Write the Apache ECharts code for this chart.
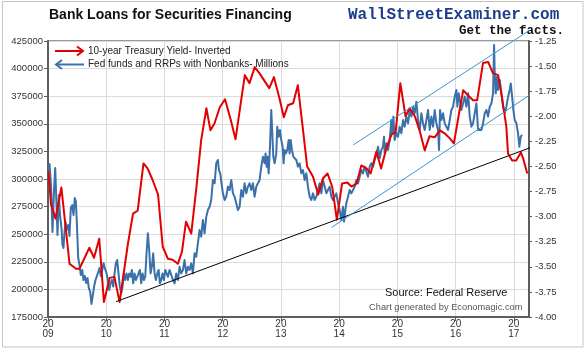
<!DOCTYPE html>
<html>
<head>
<meta charset="utf-8">
<title>Bank Loans for Securities Financing</title>
<script src="https://cdn.jsdelivr.net/npm/echarts/dist/echarts.min.js"></script>
<style>
  html, body { margin: 0; padding: 0; background: #fff; }
  #chart { width: 587px; height: 350px; }
</style>
</head>
<body>
<div id="chart"></div>
<script>
// Year ticks along the bottom axis
const yearTicks = [2009, 2010, 2011, 2012, 2013, 2014, 2015, 2016, 2017];

// Left axis ticks (millions of dollars) and right axis ticks (inverted yield, %)
const loanTicks = [175000, 200000, 225000, 250000, 275000, 300000, 325000, 350000, 375000, 400000, 425000];
const yieldTicks = [-4.00, -3.75, -3.50, -3.25, -3.00, -2.75, -2.50, -2.25, -2.00, -1.75, -1.50, -1.25];

// 10-year Treasury yield, inverted (date as decimal year, value)
const treasuryInverted = [
  [2009.009, -2.55], [2009.05, -2.87], [2009.13, -3.02], [2009.23, -2.71], [2009.37, -3.47],
  [2009.48, -3.52], [2009.54, -3.52], [2009.71, -3.31], [2009.79, -3.41], [2009.88, -3.22],
  [2009.96, -3.85], [2010.06, -3.61], [2010.14, -3.60], [2010.23, -3.85], [2010.37, -3.28],
  [2010.46, -2.97], [2010.54, -2.94], [2010.64, -2.47], [2010.71, -2.52], [2010.80, -2.64],
  [2010.89, -2.78], [2010.97, -3.30], [2011.06, -3.42], [2011.14, -3.43], [2011.23, -3.47],
  [2011.30, -3.35], [2011.37, -3.05], [2011.46, -3.17], [2011.55, -2.70], [2011.63, -2.24],
  [2011.72, -1.92], [2011.79, -2.14], [2011.86, -2.07], [2011.95, -1.91], [2012.04, -1.83],
  [2012.14, -2.04], [2012.22, -2.23], [2012.31, -1.87], [2012.38, -1.59], [2012.46, -1.67],
  [2012.55, -1.51], [2012.63, -1.57], [2012.72, -1.65], [2012.80, -1.72], [2012.88, -1.61],
  [2012.97, -1.81], [2013.05, -2.01], [2013.12, -1.89], [2013.21, -1.87], [2013.29, -1.69],
  [2013.38, -2.14], [2013.45, -2.50], [2013.55, -2.60], [2013.64, -2.78], [2013.72, -2.62],
  [2013.80, -2.57], [2013.88, -2.70], [2013.96, -3.03], [2014.05, -2.67], [2014.14, -2.66],
  [2014.21, -2.70], [2014.30, -2.67], [2014.38, -2.49], [2014.47, -2.52], [2014.54, -2.57],
  [2014.64, -2.35], [2014.72, -2.52], [2014.81, -2.32], [2014.90, -2.18], [2014.97, -2.16],
  [2015.05, -1.67], [2015.14, -2.00], [2015.21, -1.92], [2015.30, -2.00], [2015.38, -2.14],
  [2015.47, -2.34], [2015.55, -2.20], [2015.64, -2.21], [2015.73, -2.14], [2015.81, -2.17],
  [2015.90, -2.22], [2015.97, -2.27], [2016.05, -2.00], [2016.13, -1.74], [2016.21, -1.79],
  [2016.30, -1.84], [2016.37, -1.84], [2016.47, -1.47], [2016.56, -1.46], [2016.64, -1.57],
  [2016.73, -1.59], [2016.79, -1.79], [2016.87, -2.10], [2016.90, -2.37], [2016.97, -2.44],
  [2017.04, -2.44], [2017.12, -2.36], [2017.16, -2.42], [2017.23, -2.57]
];

// Fed funds and RRPs with nonbanks, millions (date as decimal year, value)
const fedFundsRrp = [
  [2009.009, 308200], [2009.026, 313600], [2009.052, 294600], [2009.077, 252000], [2009.103, 290000],
  [2009.124, 310000], [2009.146, 276400], [2009.163, 249300], [2009.186, 285500], [2009.206, 267400],
  [2009.232, 255600], [2009.249, 240200], [2009.266, 237500], [2009.284, 252000], [2009.301, 261000],
  [2009.323, 254000], [2009.347, 258300], [2009.369, 248400], [2009.392, 273700], [2009.416, 276400],
  [2009.438, 267400], [2009.460, 282800], [2009.478, 280100], [2009.495, 261000], [2009.519, 228400],
  [2009.541, 222100], [2009.564, 213000], [2009.588, 217600], [2009.610, 208500], [2009.632, 212100],
  [2009.656, 205800], [2009.679, 210300], [2009.701, 201300], [2009.725, 197600], [2009.747, 186800],
  [2009.770, 194900], [2009.794, 203100], [2009.816, 208500], [2009.838, 206700], [2009.863, 215800],
  [2009.885, 219400], [2009.907, 212100], [2009.931, 217600], [2009.954, 223900], [2009.976, 219400],
  [2010.005, 214500], [2010.028, 208500], [2010.051, 199500], [2010.074, 205500], [2010.097, 208500],
  [2010.120, 202500], [2010.143, 214500], [2010.165, 223600], [2010.188, 226600], [2010.211, 214500],
  [2010.234, 202500], [2010.257, 196400], [2010.280, 202500], [2010.303, 214500], [2010.326, 208500],
  [2010.349, 214500], [2010.372, 208500], [2010.395, 214500], [2010.418, 211500], [2010.440, 217600],
  [2010.463, 205500], [2010.486, 214500], [2010.509, 208500], [2010.532, 208500], [2010.555, 214500],
  [2010.578, 217600], [2010.601, 205500], [2010.624, 214500], [2010.647, 208500], [2010.670, 211500],
  [2010.692, 232700], [2010.715, 250800], [2010.738, 235700], [2010.761, 214500], [2010.784, 220600],
  [2010.807, 232700], [2010.830, 214500], [2010.853, 208500], [2010.876, 214500], [2010.899, 217600],
  [2010.921, 205500], [2010.944, 208500], [2010.967, 214500], [2010.990, 208500], [2011.013, 217600],
  [2011.036, 214500], [2011.059, 211500], [2011.088, 217600], [2011.116, 217600], [2011.145, 208500],
  [2011.174, 205500], [2011.202, 214500], [2011.231, 208500], [2011.259, 220600], [2011.288, 214500],
  [2011.317, 217600], [2011.345, 226600], [2011.374, 214500], [2011.403, 220600], [2011.431, 217600],
  [2011.460, 223600], [2011.488, 214500], [2011.517, 232700], [2011.546, 229600], [2011.574, 241700],
  [2011.603, 253800], [2011.632, 247800], [2011.660, 262900], [2011.689, 250800], [2011.718, 265900],
  [2011.746, 271900], [2011.775, 274900], [2011.803, 281000], [2011.832, 299100], [2011.861, 296100],
  [2011.889, 314200], [2011.918, 317200], [2011.935, 308100], [2011.958, 305100], [2011.987, 293100],
  [2012.004, 287000], [2012.033, 281000], [2012.061, 284000], [2012.090, 293100], [2012.118, 290000],
  [2012.147, 299100], [2012.176, 287000], [2012.204, 284000], [2012.233, 278000], [2012.262, 271900],
  [2012.290, 274900], [2012.319, 290000], [2012.348, 284000], [2012.376, 296100], [2012.405, 287000],
  [2012.433, 293100], [2012.462, 296100], [2012.491, 290000], [2012.519, 296100], [2012.548, 284000],
  [2012.577, 293100], [2012.605, 296100], [2012.634, 299100], [2012.663, 311200], [2012.691, 320200],
  [2012.720, 314200], [2012.737, 323200], [2012.754, 311200], [2012.771, 320200], [2012.789, 305100],
  [2012.812, 329300], [2012.834, 362500], [2012.852, 341400], [2012.869, 320200], [2012.892, 314200],
  [2012.920, 323200], [2012.937, 347400], [2012.960, 338300], [2012.983, 344400], [2013.006, 335300],
  [2013.029, 329300], [2013.046, 314200], [2013.063, 326300], [2013.086, 323200], [2013.109, 326300],
  [2013.132, 335300], [2013.149, 323200], [2013.167, 335300], [2013.190, 326300], [2013.213, 320200],
  [2013.235, 321700], [2013.264, 317200], [2013.293, 311200], [2013.321, 314200], [2013.350, 305100],
  [2013.379, 308100], [2013.407, 299100], [2013.436, 305100], [2013.464, 293100], [2013.493, 284000],
  [2013.522, 281000], [2013.550, 287000], [2013.579, 281000], [2013.608, 284000], [2013.636, 290000],
  [2013.665, 296100], [2013.694, 287000], [2013.722, 299100], [2013.751, 293100], [2013.780, 287000],
  [2013.808, 290000], [2013.837, 293100], [2013.865, 284000], [2013.894, 281000], [2013.923, 284000],
  [2013.951, 287000], [2013.980, 278000], [2014.009, 271900], [2014.037, 262900], [2014.066, 274900],
  [2014.083, 261400], [2014.106, 271900], [2014.123, 278000], [2014.152, 284000], [2014.180, 290000],
  [2014.209, 287000], [2014.238, 290000], [2014.266, 293100], [2014.295, 299100], [2014.324, 296100],
  [2014.352, 302100], [2014.381, 308100], [2014.409, 305100], [2014.438, 311200], [2014.467, 306600],
  [2014.495, 302100], [2014.524, 311200], [2014.553, 314200], [2014.581, 311200], [2014.610, 317200],
  [2014.639, 321700], [2014.667, 329300], [2014.696, 318700], [2014.724, 326300], [2014.753, 329300],
  [2014.770, 338300], [2014.782, 323200], [2014.810, 332300], [2014.839, 326300], [2014.868, 335300],
  [2014.896, 353400], [2014.913, 341400], [2014.931, 356500], [2014.953, 335300], [2014.982, 341400],
  [2015.011, 338300], [2015.039, 347400], [2015.068, 341400], [2015.097, 353400], [2015.125, 347400],
  [2015.154, 356500], [2015.183, 350400], [2015.211, 362500], [2015.240, 356500], [2015.269, 365500],
  [2015.297, 359500], [2015.326, 370000], [2015.354, 353400], [2015.383, 344400], [2015.412, 359500],
  [2015.440, 350400], [2015.469, 344400], [2015.498, 353400], [2015.526, 362500], [2015.555, 344400],
  [2015.584, 356500], [2015.612, 347400], [2015.641, 362500], [2015.669, 350400], [2015.698, 344400],
  [2015.715, 326300], [2015.732, 362500], [2015.755, 353400], [2015.784, 359500], [2015.813, 350400],
  [2015.841, 347400], [2015.870, 344400], [2015.899, 353400], [2015.927, 362500], [2015.956, 365500],
  [2015.984, 374600], [2016.013, 380600], [2016.030, 365500], [2016.053, 377600], [2016.070, 371600],
  [2016.099, 362500], [2016.128, 368500], [2016.156, 374600], [2016.185, 365500], [2016.214, 377600],
  [2016.242, 356500], [2016.271, 347400], [2016.299, 350400], [2016.328, 359500], [2016.357, 368500],
  [2016.385, 344400], [2016.414, 342900], [2016.443, 344400], [2016.471, 350400], [2016.500, 359500],
  [2016.529, 362500], [2016.557, 356500], [2016.586, 365500], [2016.614, 368500], [2016.643, 377600],
  [2016.660, 421400], [2016.672, 395700], [2016.689, 377600], [2016.712, 392700], [2016.729, 380600],
  [2016.758, 389700], [2016.786, 377600], [2016.815, 365500], [2016.844, 359500], [2016.872, 365500],
  [2016.901, 374600], [2016.929, 380600], [2016.947, 386600], [2016.970, 374600], [2016.992, 362500],
  [2017.015, 353400], [2017.044, 350400], [2017.072, 341400], [2017.095, 329300], [2017.118, 338400],
  [2017.141, 339900]
];

// Hand-drawn trend lines (left-axis units)
const supportLine = [[2010.17, 188900], [2017.36, 329900]];
const channelUpper = [[2014.24, 330800], [2017.33, 436800]];
const channelLower = [[2013.87, 256100], [2017.45, 382400]];

// Plot window
const xMin = 2009, xMax = 2017.26;

const chart = echarts.init(document.getElementById('chart'), null, { renderer: 'canvas' });

const axisGrey = '#5e5e5e';
const labelColor = '#333';
const sans = 'Liberation Sans, Arial, sans-serif';
const mono = 'Liberation Mono, Courier New, monospace';

function trend(data, color) {
  return {
    type: 'line', data, yAxisIndex: 0, clip: false, silent: true,
    showSymbol: false, symbol: 'none', z: 4,
    lineStyle: { color, width: 1 }
  };
}

chart.setOption({
  animation: false,
  backgroundColor: '#ffffff',
  grid: {
    left: 48, right: 58, top: 41, bottom: 33,
    containLabel: false, outerBoundsMode: 'none',
    show: true, borderColor: '#7a7a7a', borderWidth: 1.5, backgroundColor: 'transparent'
  },
  xAxis: {
    type: 'value', min: xMin, max: xMax, interval: 1,
    axisLine: { show: true, onZero: false, lineStyle: { color: axisGrey, width: 2 } },
    axisTick: { show: true, length: 4, lineStyle: { color: axisGrey, width: 1 } },
    splitLine: { show: true, lineStyle: { color: '#dcdcdc', width: 1 } },
    axisLabel: {
      color: labelColor, fontFamily: sans, fontSize: 10, lineHeight: 10, margin: 2,
      showMaxLabel: false,
      formatter: v => yearTicks.includes(v) ? '20\n' + String(v).slice(2) : ''
    }
  },
  yAxis: [
    {
      type: 'value', position: 'left', min: loanTicks[0], max: loanTicks[loanTicks.length - 1], interval: 25000,
      axisLine: { show: true, onZero: false, lineStyle: { color: axisGrey, width: 2 } },
      axisTick: { show: true, length: 4, lineStyle: { color: axisGrey, width: 1 } },
      splitLine: { show: true, lineStyle: { color: '#dcdcdc', width: 1 } },
      axisLabel: { color: labelColor, fontFamily: sans, fontSize: 9.5, margin: 5, formatter: v => String(v) }
    },
    {
      type: 'value', position: 'right', min: yieldTicks[0], max: yieldTicks[yieldTicks.length - 1], interval: 0.25,
      axisLine: { show: true, onZero: false, lineStyle: { color: axisGrey, width: 2 } },
      axisTick: { show: true, length: 3, lineStyle: { color: axisGrey, width: 1 } },
      splitLine: { show: false },
      axisLabel: { color: labelColor, fontFamily: sans, fontSize: 9.5, margin: 6, formatter: v => v.toFixed(2) }
    }
  ],
  series: [
    {
      name: 'Fed funds and RRPs with Nonbanks- Millions',
      type: 'line', data: fedFundsRrp, yAxisIndex: 0,
      showSymbol: false, symbol: 'none', z: 2,
      lineStyle: { color: '#3a71ab', width: 2, join: 'round' }
    },
    {
      name: '10-year Treasury Yield- Inverted',
      type: 'line', data: treasuryInverted, yAxisIndex: 1,
      showSymbol: false, symbol: 'none', z: 3,
      lineStyle: { color: '#e30000', width: 2, join: 'round' }
    },
    trend(supportLine, '#000000'),
    trend(channelUpper, '#3b95cf'),
    trend(channelLower, '#3b95cf')
  ],
  graphic: [
    // outer frame
    { type: 'rect', shape: { x: 2.5, y: 1.5, width: 580.5, height: 345.5 },
      style: { fill: 'none', stroke: '#c4c4c4', lineWidth: 1 }, silent: true, z: 0 },
    // title
    { type: 'text', x: 49, y: 15, style: { text: 'Bank Loans for Securities Financing',
      font: 'bold 14px ' + sans, fill: '#111', verticalAlign: 'middle' } },
    // site name and tagline
    { type: 'text', x: 348, y: 15, style: { text: 'WallStreetExaminer.com',
      font: 'bold 16px ' + mono, fill: '#1d3d8c', verticalAlign: 'middle' } },
    { type: 'text', x: 564, y: 31, style: { text: 'Get the facts.',
      font: 'bold 12.5px ' + mono, fill: '#111', align: 'right', verticalAlign: 'middle' } },
    // legend keys: arrows point to each series' axis
    { type: 'polyline', shape: { points: [[55, 51], [83, 51]] }, style: { stroke: '#e30000', lineWidth: 2 }, z: 10 },
    { type: 'polyline', shape: { points: [[77, 46.5], [83, 51], [77, 55.5]] }, style: { stroke: '#e30000', lineWidth: 2, fill: 'none' }, z: 10 },
    { type: 'polyline', shape: { points: [[56, 64.5], [84, 64.5]] }, style: { stroke: '#3a71ab', lineWidth: 2 }, z: 10 },
    { type: 'polyline', shape: { points: [[62, 60], [56, 64.5], [62, 69]] }, style: { stroke: '#3a71ab', lineWidth: 2, fill: 'none' }, z: 10 },
    { type: 'text', x: 88, y: 51, z: 10, style: { text: '10-year Treasury Yield- Inverted',
      font: '10px ' + sans, fill: '#222', verticalAlign: 'middle' } },
    { type: 'text', x: 88, y: 64.5, z: 10, style: { text: 'Fed funds and RRPs with Nonbanks- Millions',
      font: '10px ' + sans, fill: '#222', verticalAlign: 'middle' } },
    // source notes
    { type: 'text', x: 385, y: 292.5, z: 10, style: { text: 'Source: Federal Reserve',
      font: '11px ' + sans, fill: '#111', verticalAlign: 'middle' } },
    { type: 'text', x: 369, y: 307.5, z: 10, style: { text: 'Chart generated by Economagic.com',
      font: '9.3px ' + sans, fill: '#555', verticalAlign: 'middle' } }
  ]
});
</script>
</body>
</html>
